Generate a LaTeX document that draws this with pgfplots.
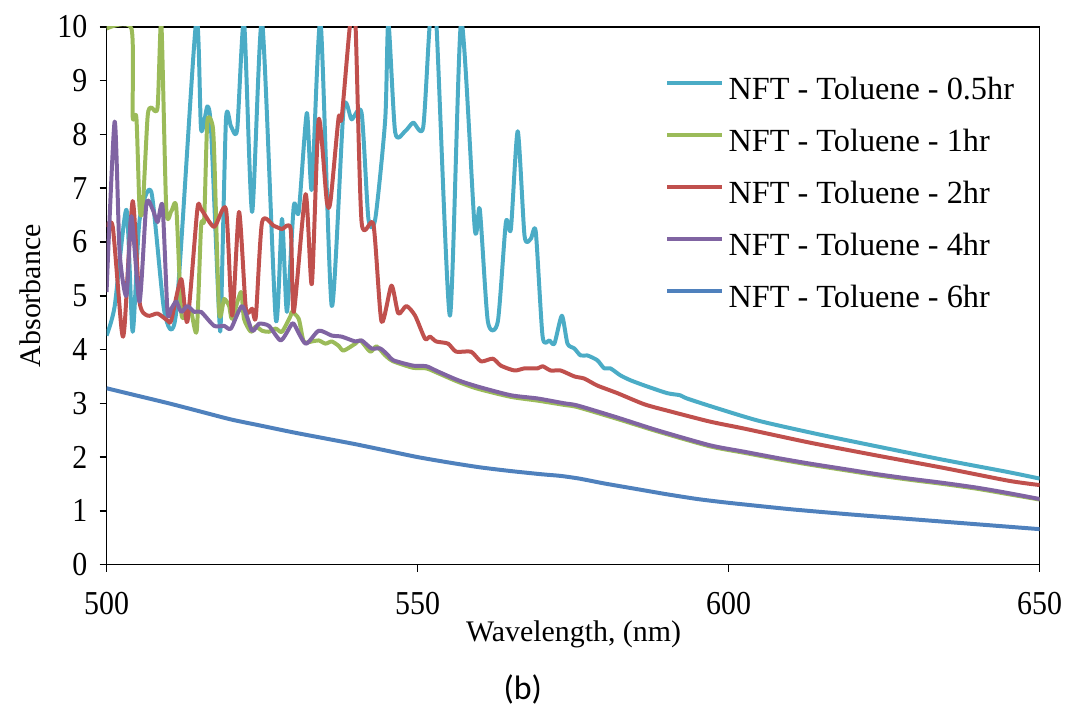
\documentclass[border=0pt]{standalone}
\usepackage{pgfplots}
\pgfplotsset{compat=1.18}
\usepackage{fontspec}
\setmainfont{Liberation Serif}
\newfontfamily\calibri{Carlito}
\definecolor{cA}{HTML}{4BACC6}
\definecolor{cB}{HTML}{9BBB59}
\definecolor{cC}{HTML}{C0504D}
\definecolor{cD}{HTML}{8064A2}
\definecolor{cE}{HTML}{4F81BD}
\begin{document}
\fontsize{15pt}{18pt}\selectfont
\begin{tikzpicture}
\begin{axis}[
  at={(0,0)}, anchor=south west,
  scale only axis, width=468.5pt, height=270pt,
  xmin=500, xmax=650, ymin=0, ymax=10,
  xtick={500,550,600,650}, ytick={0,1,...,10},
  tick align=outside, major tick length=3.5pt,
  xtick pos=bottom, ytick pos=left,
  axis line style={line width=0.8pt}, every tick/.style={black, line width=0.8pt},
  /pgf/number format/assume math mode=true,
  ticklabel style={font=\fontsize{15pt}{18pt}\selectfont, yscale=1.12},
  xticklabel style={yshift=-4pt},
  yticklabel style={xshift=-1pt},
  xlabel={Wavelength, (nm)}, ylabel={Absorbance},
  label style={font=\fontsize{16pt}{19pt}\selectfont},
  every axis x label/.style={at={(axis description cs:0.5005,0)}, anchor=center, yshift=-35pt},
  every axis y label/.style={at={(axis description cs:0,0.5)}, anchor=center, xshift=-38.5pt, rotate=90},
  legend style={at={(rel axis cs:0.5924,0.913)}, anchor=north west, draw=none, fill=none,
    font=\fontsize{16.2pt}{19pt}\selectfont, row sep=12.1pt, column sep=2.5pt,
    nodes={inner sep=0pt, text height=11pt, text depth=3pt}},
  legend cell align=left,
  legend image code/.code={\draw[#1, line width=1.6pt] (0pt,4.5pt) -- (27.5pt,4.5pt);},
  every axis plot/.append style={line width=2pt, line join=round, smooth, tension=0.4},
]
\addplot[cA] coordinates {
(500,4.26)(501.3,4.8)(503.2,6.6)(504.2,4.33)(505.3,6.4)(507.2,6.93)(509.3,4.7)(511.2,4.7)
(514.4,10.1)(515.2,8.09)(516.2,8.52)(516.8,8.09)(518.1,4.63)(518.4,4.63)(519.2,8.28)(520.0,8.15)
(521.0,8.09)(522.1,10.1)(523.4,6.56)(525.0,10.1)(527.2,4.57)(528.2,6.43)(529.0,4.7)(530.1,6.67)
(530.9,6.56)(532.2,8.4)(533.0,6.98)(534.4,10.1)(536.2,4.81)(538.1,8.46)(539.4,8.28)(541.0,8.4)
(542.1,6.43)(543.2,6.43)(544.8,8.28)(545.3,10.1)(546.4,8.04)(548.0,8.06)(549.3,8.22)(550.9,8.13)
(552.0,10.1)(553.0,10.1)(555.2,4.63)(557.0,10.1)(559.2,6.24)(560.0,6.61)(561.3,4.52)(562.9,4.52)
(564.2,6.37)(565.0,6.24)(566.1,8.06)(567.2,6.11)(568.2,6.06)(569.0,6.19)(570.1,4.24)(571.2,4.17)
(572.0,4.11)(573.2,4.63)(574.1,4.11)(575.2,4.02)(576.2,3.89)(577.3,3.89)(578.9,3.80)(580.0,3.65)
(581.0,3.65)(582.6,3.52)(584.2,3.43)(586.5,3.33)(590.1,3.19)(592.2,3.15)(593.3,3.09)(598.1,2.91)
(605.0,2.67)(614.6,2.42)(623.8,2.20)(634.5,1.95)(645.0,1.72)(650,1.60)};
\addlegendentry{NFT - Toluene - 0.5hr}
\addplot[cB] coordinates {
(500,9.97)(504.0,9.97)(504.2,8.33)(504.8,8.31)(505.3,6.65)(505.8,6.61)(506.6,8.33)(507.2,8.5)
(508.2,8.5)(508.8,10.1)(509.6,6.61)(510.4,6.57)(511.2,6.65)(512.0,4.70)(512.8,4.63)(513.6,4.70)
(514.5,4.35)(515.2,6.3)(515.7,6.43)(516.2,8.24)(517.0,8.19)(517.3,7.67)(518.1,4.70)(518.9,4.94)
(519.7,4.81)(520.2,4.57)(521.6,5.07)(522.1,4.57)(523.2,4.33)(524.0,4.43)(525.0,4.35)(526.1,4.33)
(527.2,4.39)(528.2,4.33)(529.6,4.63)(529.8,4.70)(530.9,4.57)(531.7,4.15)(533.0,4.15)(534.1,4.17)
(535.2,4.11)(536.2,4.15)(537.3,4.07)(538.1,3.98)(540.0,4.11)(540.8,4.17)(542.4,3.96)(543.4,4.06)
(544.8,3.89)(546.1,3.78)(549.3,3.66)(551.4,3.65)(553.3,3.56)(556.5,3.40)(559.7,3.27)(565.0,3.12)
(569.3,3.05)(573.6,2.97)(575.7,2.93)(582.1,2.71)(588.5,2.48)(597,2.20)(602.5,2.08)(608,1.96)
(613,1.86)(618.5,1.76)(624,1.66)(629,1.58)(634.5,1.50)(640,1.41)(645,1.31)(650,1.21)};
\addlegendentry{NFT - Toluene - 1hr}
\addplot[cC] coordinates {
(500,6.28)(501.0,6.28)(502.4,4.39)(502.9,4.44)(504.2,6.76)(505.3,4.89)(506.6,4.63)(508.2,4.67)
(509.8,4.54)(510.4,4.54)(512.0,5.31)(513.0,4.52)(514.6,6.61)(515.2,6.61)(517.3,6.28)(519.2,6.61)
(520.2,4.63)(521.3,6.56)(522.4,4.76)(523.4,4.76)(524.0,4.61)(525.0,6.37)(526.9,6.30)(528.2,6.24)
(529.6,6.24)(530.1,4.70)(532.0,6.89)(533.0,5.22)(534.1,8.28)(535.4,6.76)(536.0,6.76)(537.3,8.31)
(537.8,8.31)(539.2,10.1)(540.0,10.1)(541.0,6.37)(542.9,6.33)(544.2,4.52)(545.8,5.19)(546.9,4.67)
(548.2,4.81)(549.6,4.63)(551.2,4.20)(552.0,4.24)(553.0,4.15)(554.9,4.11)(556.2,3.96)(558.6,3.96)
(560.2,3.78)(562.1,3.83)(563.4,3.70)(565.6,3.61)(567.2,3.65)(569.3,3.65)(570.1,3.69)(571.4,3.61)
(573.0,3.61)(575.2,3.50)(576.8,3.46)(578.9,3.33)(582.1,3.19)(586.5,2.98)(590.6,2.85)(597,2.66)
(602.5,2.53)(613,2.27)(623.8,2.03)(634.5,1.80)(645,1.56)(650,1.48)};
\addlegendentry{NFT - Toluene - 2hr}
\addplot[cD] coordinates {
(500,5.07)(501.3,8.24)(502.1,5.81)(503.2,5.0)(504.0,6.48)(505.3,4.89)(506.4,6.70)(507.4,6.61)
(508.2,6.37)(509.0,6.67)(509.8,4.70)(510.4,4.76)(511.2,4.89)(512.0,4.70)(513.0,4.81)(514.1,4.70)
(515.2,4.70)(517.3,4.44)(518.9,4.44)(520.0,4.39)(521.8,4.81)(523.4,4.35)(524.5,4.48)(526.1,4.44)
(528.0,4.17)(529.6,4.44)(530.1,4.48)(532.0,4.11)(534.1,4.35)(536.2,4.26)(537.8,4.24)(540.0,4.15)
(541.0,4.17)(542.6,4.02)(544.0,4.02)(545.3,3.89)(546.1,3.80)(549.3,3.70)(551.4,3.69)(553.3,3.59)
(556.5,3.43)(559.7,3.31)(565.0,3.15)(569.3,3.09)(573.6,3.00)(575.7,2.96)(582,2.74)(588.5,2.50)
(597,2.22)(602.5,2.10)(608,1.98)(613,1.88)(618.5,1.78)(624,1.68)(629,1.60)(634.5,1.52)
(640,1.43)(645,1.33)(650,1.22)};
\addlegendentry{NFT - Toluene - 4hr}
\addplot[cE] coordinates {
(500,3.28)(505,3.14)(510,3.00)(515,2.85)(520,2.70)(525,2.58)(530,2.46)(535,2.35)(540,2.24)
(545,2.12)(550,2.00)(555,1.90)(560,1.81)(565,1.74)(570,1.68)(573,1.65)(576,1.60)(580,1.51)
(585,1.41)(590,1.31)(595,1.22)(600,1.15)(610,1.03)(620,0.93)(630,0.84)(640,0.75)(650,0.66)};
\addlegendentry{NFT - Toluene - 6hr}
\end{axis}
\node[font=\calibri\fontsize{17pt}{20pt}\selectfont] at (209pt,-62.5pt) {(b)};
\path[use as bounding box] (-53.5pt,-69.5pt) rectangle (482.5pt,283.5pt);
\end{tikzpicture}
\end{document}
